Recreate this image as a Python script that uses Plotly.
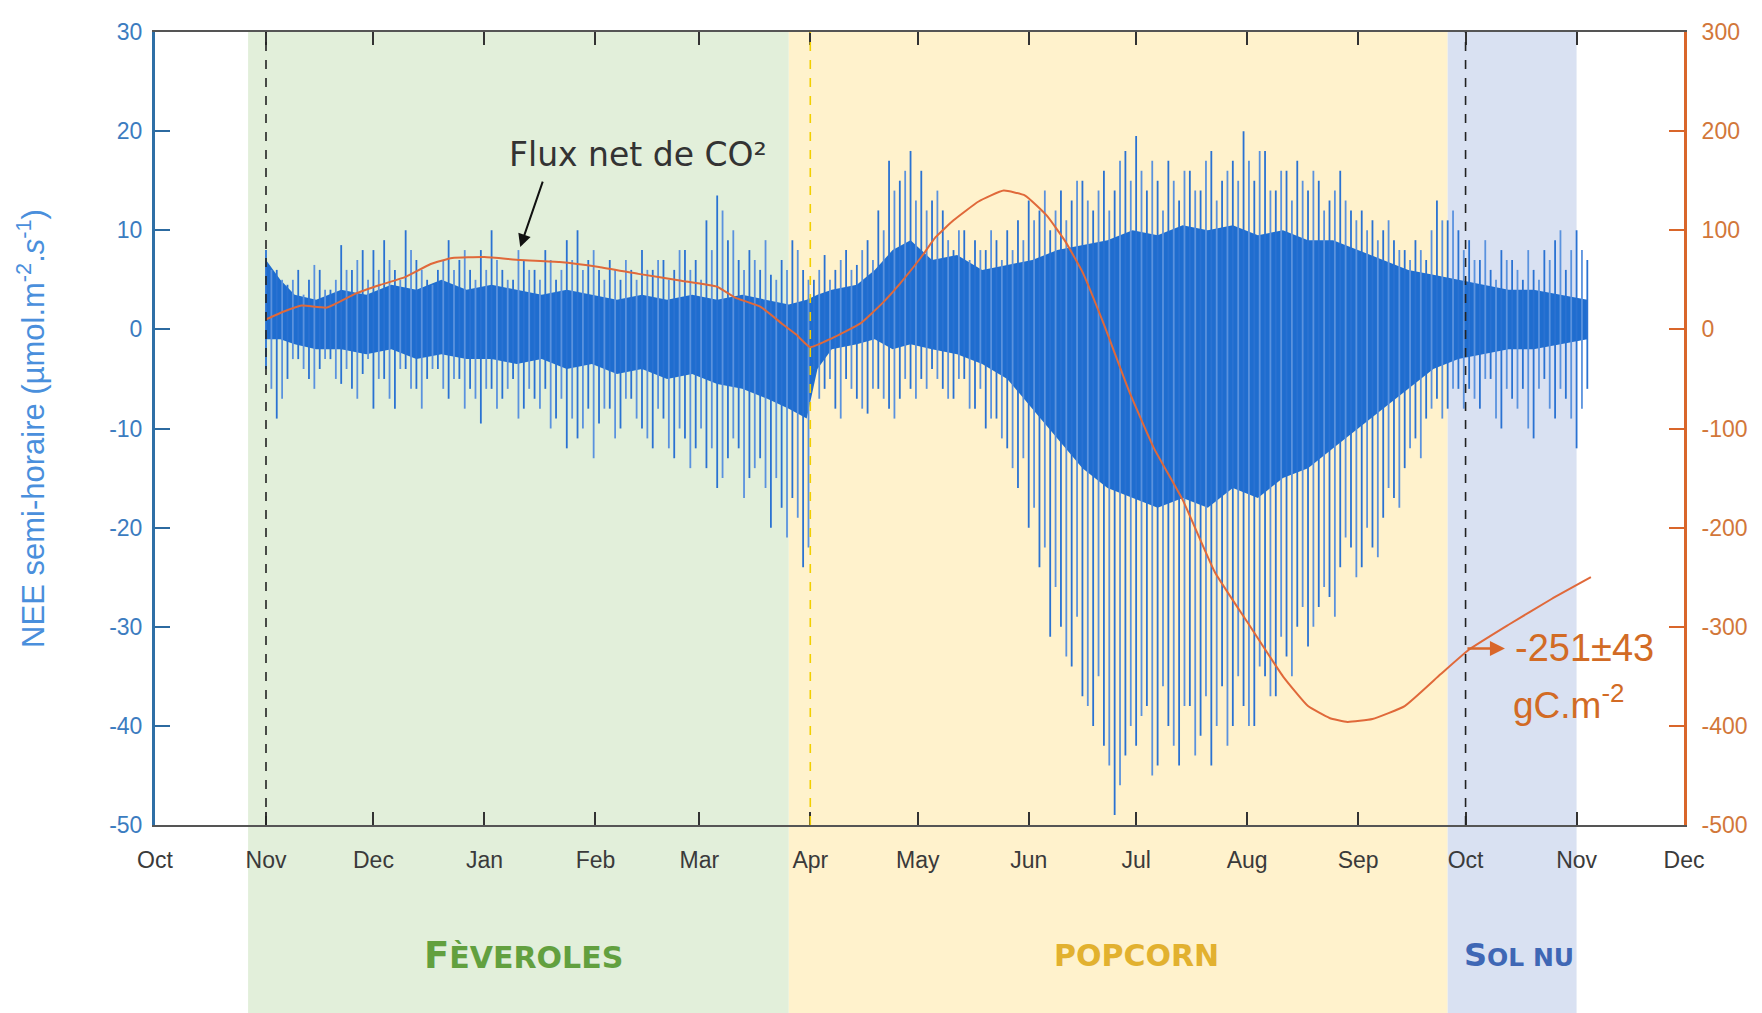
import pandas as pd
import plotly.graph_objects as go

START = pd.Timestamp("2019-11-01")

# ---- Half-hourly NEE (µmol m-2 s-1): daily extremes read every 3 days from 1 Nov 2019
spike_day = list(range(0, 370, 3))
spike_hi = [8, 6, 4.5, 6, 5, 6, 4, 8.5, 6, 8,
            8, 9, 6, 10, 7, 5, 6, 9, 7, 6, 8,
            10, 6, 5, 7, 6, 8, 5, 9, 10, 7,
            6, 7, 5, 6, 8, 6, 7, 6, 8, 7,
            11, 13.5, 9, 7, 8, 6, 5.5, 7, 9, 6,
            5, 7.5, 6, 8, 6.5, 9, 12, 17, 15, 18,
            16, 13, 12, 8, 10, 9, 8, 9, 10, 11,
            13, 12, 10, 14, 13, 15, 12, 16, 14, 18,
            19.5, 14, 15, 17, 13, 16, 14, 18, 15, 17,
            20, 15, 18, 14, 16, 17, 14, 15, 13, 16, 12,
            12, 11, 10, 9, 8, 9, 7, 13, 11, 10,
            9, 7, 6, 8, 7, 5, 6, 8, 9, 6,
            10, 7]
spike_lo = [-4, -9, -5, -3, -5, -4, -3, -5.5, -6, -4.5,
            -8, -5, -8, -4, -6, -5, -4, -7, -5, -6, -9.5,
            -6, -7, -5, -8, -7, -6, -9, -12, -11, -8,
            -9.5, -8, -10, -7, -10, -12, -9, -13, -11, -12,
            -14, -16, -13, -12, -15, -13, -20, -18, -17, -24,
            -4, -6, -8, -5, -7, -8.5, -6, -8, -7, -6,
            -5, -4, -6, -7, -5, -8, -10, -9, -12, -16,
            -20, -24, -31, -30, -34, -37, -40, -42, -49, -43,
            -42, -38, -44, -40, -44, -38, -41, -44, -36, -40,
            -38, -40, -35, -37, -33, -30, -32, -28, -27, -24, -22,
            -24, -22, -19, -17, -14, -11, -9, -7, -8, -6,
            -6, -8, -5, -10, -7, -6, -11, -5, -9, -7,
            -12, -6]

# second set of daily extremes, read between the first ones (every 3 days from 2.5 Nov 2019)
spike2_day = [1.5 + 3 * i for i in range(123)]
spike2_hi = [6, 5, 5, 3.5, 6.5, 4, 5, 6, 7, 5,
             6, 7, 5, 8, 6, 4.5, 7, 6, 8, 5, 6,
             7, 5, 8, 6, 5, 7, 6, 7, 6, 8,
             5, 6, 7, 5, 6, 7, 5, 8, 6, 5,
             8, 12, 10, 6, 7, 9, 5, 6, 8, 5,
             6, 5, 7, 6, 8, 7, 10, 14, 16, 13,
             12, 14, 9, 10, 7, 8, 10, 7, 8, 9,
             11, 14, 12, 11, 15, 13, 14, 12, 17, 15,
             16, 17, 12, 15, 16, 14, 17, 13, 16, 15,
             17, 18, 14, 16, 13, 15, 16, 12, 14, 13, 11,
             10, 9, 11, 8, 7, 8, 10, 11, 12, 8,
             7, 9, 5, 7, 6, 8, 5, 7, 10, 8,
             8]
spike2_lo = [-6, -7, -3, -4, -6, -3, -5, -4, -7, -3,
             -5, -7, -4, -6, -8, -4, -6, -5, -8, -7, -6,
             -8, -6, -9, -6, -8, -10, -7, -9, -10, -13,
             -8, -11, -7, -9, -11, -8, -12, -10, -14, -10,
             -12, -15, -11, -17, -14, -16, -15, -21, -19, -22,
             -7, -5, -9, -6, -8, -6, -7, -9, -5, -7,
             -6, -5, -7, -5, -8, -6, -9, -11, -14, -13,
             -18, -22, -26, -33, -29, -38, -35, -44, -46, -40,
             -39, -45, -36, -42, -38, -43, -37, -40, -42, -35,
             -40, -34, -37, -31, -35, -28, -30, -26, -29, -21, -25,
             -20, -23, -16, -18, -12, -13, -8, -9, -6, -8,
             -7, -5, -9, -6, -8, -10, -6, -8, -6, -9,
             -8]

# ---- Dense core of the half-hourly signal (read about weekly)
core_day = [0, 4, 8, 14, 21, 28, 35, 42, 49, 56,
            63, 70, 77, 84, 91, 98, 105, 112, 119, 126,
            133, 140, 146, 151, 154, 158, 165, 170, 175, 180,
            186, 193, 200, 207, 214, 221, 228, 235, 242, 249,
            256, 263, 270, 277, 284, 291, 298, 305, 312, 319,
            326, 333, 340, 347, 354, 361, 369]
core_hi = [7, 5, 3.5, 3, 4, 3.5, 4.5, 4, 5, 4,
           4.5, 4, 3.5, 4, 3.5, 3, 3.5, 3, 3.5, 3,
           3.5, 3, 2.5, 3, 3.5, 4, 4.5, 6, 8, 9,
           7, 7.5, 6, 6.5, 7, 8, 8.5, 9, 10, 9.5,
           10.5, 10, 10.5, 9.5, 10, 9, 9, 8, 7, 6,
           5.5, 5, 4.5, 4, 4, 3.5, 3]
core_lo = [-1, -1, -1.5, -2, -2, -2.5, -2, -3, -2.5, -3,
           -3, -3.5, -3, -4, -3.5, -4.5, -4, -5, -4.5, -5.5,
           -6, -7, -8, -9, -4, -2, -1.5, -1, -2, -1.5,
           -2, -2.5, -3.5, -5, -8, -11, -14, -16, -17, -18,
           -17, -18, -16, -17, -15, -14, -12, -10, -8, -6,
           -4, -3, -2.5, -2, -2, -1.5, -1]

# ---- Cumulated NEE (gC m-2)
cum_day = [0, 5, 10, 17, 25, 32, 39, 46, 52, 61, 71, 82, 93, 104, 116, 126, 131, 138,
           144, 148, 152, 158, 166, 172, 177, 183, 187, 192, 199, 206, 212, 218, 223,
           228, 234, 241, 248, 256, 265, 274, 284, 291, 297, 302, 309, 318, 328, 336,
           347, 359, 370]
cum_val = [10, 18, 24, 22, 36, 45, 53, 66, 72, 73, 70, 68, 63, 56, 49, 43, 32, 23,
           6, -5, -18, -9, 6, 26, 46, 73, 93, 110, 129, 140, 135, 115, 90,
           58, 5, -62, -120, -172, -245, -295, -350, -380, -392, -396, -393, -380, -348, -323,
           -298, -272, -250]

# ---- Tick labels
y_ticks = [30, 20, 10, 0, -10, -20, -30, -40, -50]
y_ticktext = ["30", "20", "10", "0", "-10", "-20", "-30", "-40", "-50"]
y2_ticks = [300, 200, 100, 0, -100, -200, -300, -400, -500]
y2_ticktext = ["300", "200", "100", "0", "-100", "-200", "-300", "-400", "-500"]

# ---- Crop phases
phase_label = ["<span style='font-size:37px'>F</span>ÈVEROLES", "POPCORN",
               "<span style='font-size:32px'>S</span>OL NU"]
phase_label_date = ["2020-01-12", "2020-07-01", "2020-10-16"]
phase_label_size = [30, 30, 25]
phase_start = ["2019-10-27", "2020-03-26", "2020-09-26"]
phase_end = ["2020-03-26", "2020-09-26", "2020-11-01"]
phase_fill = ["#e2efda", "#fff2cc", "#d9e1f2"]
phase_text = ["#62a03f", "#e2b12f", "#3f67b5"]

marker_dates = ["2019-11-01", "2020-04-01", "2020-10-01"]
marker_colors = ["#222222", "#f2cf00", "#222222"]


def to_dates(days):
    return [START + pd.Timedelta(days=d) for d in days]


def segments(days, lo, hi):
    xs, ys = [], []
    for d, l, h in zip(to_dates(days), lo, hi):
        xs += [d, d, None]
        ys += [l, h, None]
    return xs, ys


fig = go.Figure()

cd = to_dates(core_day)
fig.add_trace(go.Scatter(x=cd, y=core_lo, mode="lines", line=dict(width=0, color="#1f6dcf"),
                         hoverinfo="skip"))
fig.add_trace(go.Scatter(x=cd, y=core_hi, mode="lines", line=dict(width=0, color="#1f6dcf"),
                         fill="tonexty", fillcolor="#1f6dcf", hoverinfo="skip"))

x2, y2 = segments(spike2_day, spike2_lo, spike2_hi)
fig.add_trace(go.Scatter(x=x2, y=y2, mode="lines", line=dict(width=1.8, color="#5a92de"),
                         connectgaps=False))
x1, y1 = segments(spike_day, spike_lo, spike_hi)
fig.add_trace(go.Scatter(x=x1, y=y1, mode="lines", line=dict(width=1.8, color="#2a72d2"),
                         connectgaps=False))

fig.add_trace(go.Scatter(x=to_dates(cum_day), y=cum_val, yaxis="y2", mode="lines",
                         line=dict(width=2, color="#e0693a", shape="spline", smoothing=0.4)))

bottom_paper = -188 / 793
for s, e, c, lab, tc, ld, ls in zip(phase_start, phase_end, phase_fill, phase_label,
                                    phase_text, phase_label_date, phase_label_size):
    fig.add_shape(type="rect", xref="x", yref="paper", x0=s, x1=e, y0=bottom_paper, y1=1,
                  fillcolor=c, line_width=0, layer="below")
    fig.add_annotation(x=ld, y=-0.164, xref="x", yref="paper", text="<b>" + lab + "</b>",
                       showarrow=False, xanchor="center", yanchor="middle",
                       font=dict(size=ls, color=tc, family="DejaVu Sans"))

for d, c in zip(marker_dates, marker_colors):
    fig.add_shape(type="line", xref="x", yref="paper", x0=d, x1=d, y0=0, y1=1,
                  line=dict(color=c, width=1.6, dash="dash"), layer="above")

# annotations
fig.add_annotation(x="2020-01-11", y=83, xref="x", yref="y2", ax=23, ay=-67, text="",
                   showarrow=True, arrowhead=2, arrowsize=1.3, arrowwidth=2, arrowcolor="#111")
fig.add_annotation(x="2020-02-13", y=17.6, xref="x", yref="y", text="Flux net de CO²",
                   showarrow=False, xanchor="center", yanchor="middle",
                   font=dict(size=33, color="#333333", family="DejaVu Sans"))
fig.add_annotation(x="2020-10-12", y=-322, xref="x", yref="y2", ax=-39, ay=0, text="",
                   showarrow=True, arrowhead=2, arrowsize=1.2, arrowwidth=2.5, arrowcolor="#d9662a")
fig.add_annotation(x=(1584 - 155) / 1529, y=(825 - 648) / 793, xref="paper", yref="paper",
                   text="-251±43", showarrow=False, xanchor="center", yanchor="middle",
                   font=dict(size=38, color="#d26b25", family="Liberation Sans"))
fig.add_annotation(x=(1568 - 155) / 1529, y=(825 - 702) / 793, xref="paper", yref="paper",
                   text="gC.m<sup>-2</sup>", showarrow=False, xanchor="center", yanchor="middle",
                   font=dict(size=37, color="#d26b25", family="Liberation Sans"))

fig.update_layout(
    width=1762, height=1013,
    margin=dict(l=155, r=78, t=32, b=188),
    paper_bgcolor="white", plot_bgcolor="white",
    showlegend=False,
    font=dict(family="Liberation Sans", color="#333"),
    xaxis=dict(type="date", range=["2019-10-01", "2020-12-01"], dtick="M1", tick0="2019-10-01",
               tickformat="%b", ticks="inside", ticklen=13, tickwidth=2, tickcolor="#333",
               showline=True, linecolor="#555", linewidth=2, mirror="ticks",
               showgrid=False, zeroline=False, ticklabelstandoff=13,
               tickfont=dict(size=23, color="#3a3a3a")),
    yaxis=dict(range=[-50, 30], tickvals=y_ticks, ticktext=y_ticktext,
               ticks="inside", ticklen=15, tickwidth=2,
               tickcolor="#2c6aa0", showline=True, linecolor="#2f6fa6", linewidth=3,
               showgrid=False, zeroline=False, ticklabelstandoff=5,
               tickfont=dict(size=23, color="#3b7cc0"),
               title=dict(text="NEE semi-horaire (µmol.m<sup>-2</sup>.<i>s</i><sup>-1</sup>)",
                          font=dict(size=31, color="#4a8fdc"), standoff=56)),
    yaxis2=dict(range=[-500, 300], tickvals=y2_ticks, ticktext=y2_ticktext,
                overlaying="y", side="right",
                ticks="inside", ticklen=15, tickwidth=2, tickcolor="#d9662a",
                showline=True, linecolor="#d9662a", linewidth=3,
                showgrid=False, zeroline=False, ticklabelstandoff=10,
                tickfont=dict(size=23, color="#d2773a")),
)

fig.write_html("out.html")
